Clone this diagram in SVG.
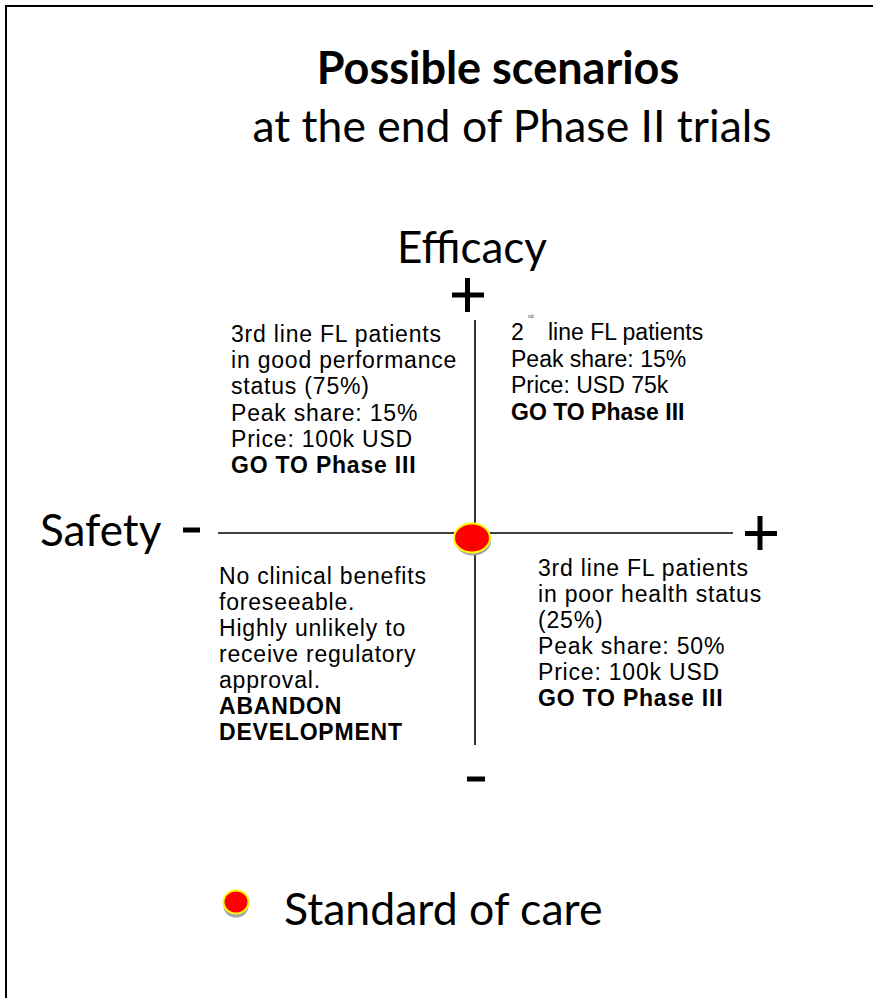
<svg xmlns="http://www.w3.org/2000/svg" width="873" height="998" viewBox="0 0 873 998">
<style>
.t{font-family:Lato,"Liberation Sans",sans-serif;fill:#000}
.q{font-family:"Liberation Sans",Arial,sans-serif;font-size:23px;fill:#000}
.w{letter-spacing:0.8px}
.b{font-weight:bold}
.ax{stroke:#000;stroke-width:1.6;fill:none}
.sign{stroke:#000;stroke-width:5;fill:none}
.soc{fill:#ff0000;stroke:#ffff00;stroke-width:2}
.sh{fill:#a6a6a6}
</style>
<rect width="873" height="998" fill="#fff"/>
<path d="M6,998 V6 H873" fill="none" stroke="#000" stroke-width="2"/>
<g id="title">
<text class="t b" x="498" y="84" font-size="45" text-anchor="middle">Possible scenarios</text>
<text class="t" x="512" y="142" font-size="44.5" text-anchor="middle">at the end of Phase II trials</text>
</g>
<g id="axes">
<line class="ax" x1="218" y1="533" x2="733" y2="533"/>
<line class="ax" x1="475" y1="320" x2="475" y2="745"/>
</g>
<g id="efficacy-label">
<text class="t" x="472" y="263" font-size="44" text-anchor="middle">Efficacy</text>
<path class="sign" d="M452,295 H484 M467.5,278 V312"/>
<path class="sign" d="M467,779 H485"/>
</g>
<g id="safety-label">
<text class="t" x="40" y="546" font-size="44">Safety</text>
<path class="sign" d="M183,530 H200"/>
<path class="sign" d="M745,533.5 H777 M760,516 V550"/>
</g>
<g id="top-left">
<text class="q w"><tspan x="231" y="342">3rd line FL patients</tspan><tspan x="231" dy="26.2">in good performance</tspan><tspan x="231" dy="26.2">status (75%)</tspan><tspan x="231" dy="26.2">Peak share: 15%</tspan><tspan x="231" dy="26.2">Price: 100k USD</tspan><tspan class="b" x="231" dy="26.2">GO TO Phase III</tspan></text>
</g>
<g id="top-right">
<text class="q"><tspan x="511" y="340">2</tspan><tspan x="548" y="340">line FL patients</tspan><tspan x="511" dy="26.5">Peak share: 15%</tspan><tspan x="511" dy="26.5">Price: USD 75k</tspan><tspan class="b" x="511" dy="26.5">GO TO Phase III</tspan></text>
<text x="528" y="318" style="font-family:'Liberation Sans',sans-serif;font-size:5px;fill:#333">nd</text>
</g>
<g id="bottom-left">
<text class="q w"><tspan x="219" y="584">No clinical benefits</tspan><tspan x="219" dy="26">foreseeable.</tspan><tspan x="219" dy="26">Highly unlikely to</tspan><tspan x="219" dy="26">receive regulatory</tspan><tspan x="219" dy="26">approval.</tspan><tspan class="b" x="219" dy="26">ABANDON</tspan><tspan class="b" x="219" dy="26">DEVELOPMENT</tspan></text>
</g>
<g id="bottom-right">
<text class="q w"><tspan x="538" y="576">3rd line FL patients</tspan><tspan x="538" dy="26">in poor health status</tspan><tspan x="538" dy="26">(25%)</tspan><tspan x="538" dy="26">Peak share: 50%</tspan><tspan x="538" dy="26">Price: 100k USD</tspan><tspan class="b" x="538" dy="26">GO TO Phase III</tspan></text>
</g>
<g id="standard-of-care">
<ellipse class="sh" cx="473" cy="541" rx="18" ry="14.5"/>
<ellipse class="soc" cx="472" cy="538" rx="18" ry="14.5"/>
</g>
<g id="legend">
<ellipse class="sh" cx="236" cy="906" rx="12.5" ry="11.5"/>
<ellipse class="soc" cx="236" cy="902" rx="12.5" ry="11.5"/>
<text class="t" x="284" y="925" font-size="44.6">Standard of care</text>
</g>
</svg>
